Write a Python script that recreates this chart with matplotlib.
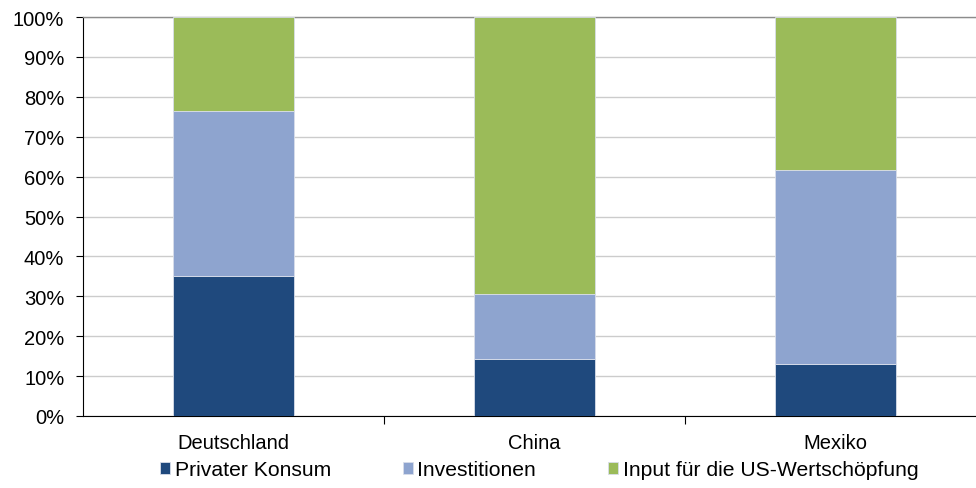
import numpy as np
import matplotlib.pyplot as plt
from matplotlib.ticker import PercentFormatter

plt.rcParams['font.family'] = ['Liberation Sans', 'DejaVu Sans']

# data (percent shares)
laender = ['Deutschland', 'China', 'Mexiko']
privater_konsum = [35.0, 14.3, 13.1]
investitionen = [41.4, 16.2, 48.5]
input_us = [23.6, 69.5, 38.4]
serien = ['Privater Konsum', 'Investitionen', 'Input für die US-Wertschöpfung']
farben = ['#1F497D', '#8EA4CF', '#9BBB59']

fig = plt.figure(figsize=(9.76, 4.89), dpi=100)
ax = fig.add_axes([83/976, 72/489, 903/976, 399/489])

x = np.arange(len(laender))
bottom = np.zeros(len(laender))
for name, werte, farbe in zip(serien, [privater_konsum, investitionen, input_us], farben):
    ax.bar(x, werte, width=0.4, bottom=bottom, color=farbe, label=name,
           edgecolor='#D9DEEA', linewidth=0.6, zorder=3)
    bottom += np.array(werte)

ax.set_xlim(-0.5, 2.5)
ax.set_ylim(0, 100)
ax.set_yticks(np.arange(0, 101, 10))
ax.yaxis.set_major_formatter(PercentFormatter(decimals=0))
ax.yaxis.grid(True, color='#CCCCCC', linewidth=1, zorder=0)
ax.set_axisbelow(True)

ax.set_xticks(x)
ax.set_xticklabels(laender)
ax.set_xticks([0.5, 1.5], minor=True)
ax.tick_params(axis='x', which='major', length=0, pad=12, labelsize=14.5)
ax.tick_params(axis='x', which='minor', length=6, width=0.8, direction='out')
ax.tick_params(axis='y', length=5, width=0.8, direction='out', pad=8.5, labelsize=14.5)

ax.spines['right'].set_visible(False)
ax.spines['top'].set_color('#8C8C8C')
ax.spines['top'].set_linewidth(1)
ax.spines['left'].set_color('black')
ax.spines['bottom'].set_color('black')
ax.spines['left'].set_linewidth(0.8)
ax.spines['bottom'].set_linewidth(0.8)

fig.legend(loc='center', bbox_to_anchor=(539/976, 1 - 471/489), ncol=3, frameon=False,
           fontsize=15.2, handlelength=0.5, handleheight=0.5, handletextpad=0.2,
           columnspacing=3.4)

fig.savefig('out.png', dpi=100)
